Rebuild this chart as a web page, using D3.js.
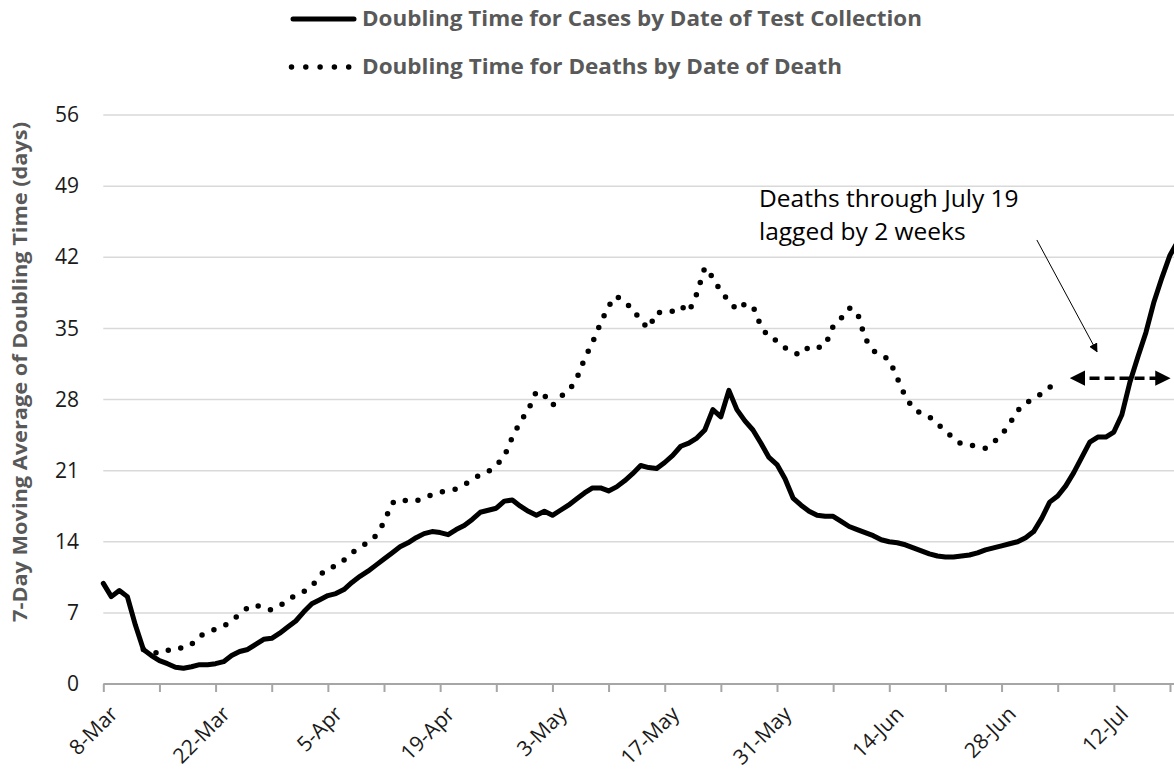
<!DOCTYPE html>
<html>
<head>
<meta charset="utf-8">
<script src="https://cdn.jsdelivr.net/npm/d3@7"></script>
<style>
  body { margin: 0; background: #fff; }
  svg { display: block; }
</style>
</head>
<body>
<svg id="chart" width="1174" height="779"></svg>
<script>
// day 0 = 8 March
var startDate = Date.UTC(2020, 2, 8);

var casesDoubling = [
  9.9, 8.6, 9.2, 8.6, 5.8, 3.4, 2.8, 2.3, 2.0, 1.65,
  1.55, 1.7, 1.9, 1.9, 2.0, 2.2, 2.8, 3.2, 3.4, 3.9,
  4.4, 4.5, 5.0, 5.6, 6.2, 7.1, 7.9, 8.3, 8.7, 8.9,
  9.3, 10.0, 10.6, 11.1, 11.7, 12.3, 12.9, 13.5, 13.9, 14.4,
  14.8, 15.0, 14.9, 14.7, 15.2, 15.6, 16.2, 16.9, 17.1, 17.3,
  18.0, 18.1, 17.5, 17.0, 16.6, 17.0, 16.6, 17.1, 17.6, 18.2,
  18.8, 19.3, 19.3, 19.0, 19.4, 20.0, 20.7, 21.5, 21.3, 21.2,
  21.8, 22.5, 23.4, 23.7, 24.2, 25.0, 27.0, 26.3, 28.9, 27.0,
  25.9, 25.0, 23.7, 22.3, 21.6, 20.2, 18.3, 17.6, 17.0, 16.6,
  16.5, 16.5, 16.0, 15.5, 15.2, 14.9, 14.6, 14.2, 14.0, 13.9,
  13.7, 13.4, 13.1, 12.8, 12.6, 12.5, 12.5, 12.6, 12.7, 12.9,
  13.2, 13.4, 13.6, 13.8, 14.0, 14.4, 15.0, 16.3, 17.9, 18.5,
  19.5, 20.8, 22.3, 23.8, 24.3, 24.3, 24.8, 26.5, 29.7, 32.2,
  34.6, 37.6, 40.0, 42.2, 43.6
];

var deathsDoubling = [
  null, null, null, null, null, 3.4, 3.2, 3.0, 3.3, 3.6,
  3.5, 3.9, 4.7, 5.1, 5.4, 5.7, 6.2, 6.9, 7.5, 7.8,
  7.4, 7.3, 7.7, 8.2, 8.8, 9.1, 9.6, 10.7, 11.4, 11.6,
  12.2, 12.9, 13.5, 13.9, 14.6, 15.9, 17.8, 18.2, 18.0, 18.0,
  18.4, 18.6, 18.9, 19.0, 19.2, 19.6, 20.1, 20.6, 20.9, 21.5,
  22.4, 24.3, 25.8, 27.0, 28.8, 28.4, 27.4, 28.3, 28.8, 30.0,
  32.0, 33.6, 35.5, 37.2, 38.2, 37.5, 37.0, 35.7, 35.0, 36.6,
  36.5, 36.7, 37.2, 36.6, 38.4, 41.0, 40.0, 38.6, 37.7, 36.8,
  37.4, 37.2, 35.2, 34.1, 33.8, 33.1, 32.6, 32.4, 33.2, 33.1,
  33.3, 35.2, 36.0, 37.0, 36.6, 34.0, 32.8, 32.4, 31.9, 30.1,
  28.3, 27.1, 26.6, 26.3, 25.6, 24.9, 24.2, 23.6, 23.5, 23.4,
  23.2, 23.8, 24.5, 25.6, 26.9, 27.7, 28.0, 28.6, 29.2, 29.7
];

var yTicks = [0, 7, 14, 21, 28, 35, 42, 49, 56];
var seriesNames = [
  "Doubling Time for Cases by Date of Test Collection",
  "Doubling Time for Deaths by Date of Death"
];
var yTitle = "7-Day Moving Average of Doubling Time (days)";
var noteLines = ["Deaths through July 19", "lagged by 2 weeks"];
// lag arrow: from day 120 to end, at value 30.1
var lagArrow = { fromDay: 120.1, toDay: 133.5, value: 30.1 };
var pointer = { fromDay: 116.4, fromValue: 43.7, toDay: 123.9, toValue: 32.7 };

function dayDate(d) { return new Date(startDate + d * 864e5); }

var svg = d3.select("#chart");
var font = "'Open Sans', 'DejaVu Sans', sans-serif";

var x = d3.scaleUtc()
  .domain([dayDate(0), dayDate(133.5)])
  .range([103.3, 1174]);
var y = d3.scaleLinear().domain([0, 56]).range([684, 115]);

var defs = svg.append("defs");
defs.append("clipPath").attr("id", "plotClip")
  .append("rect").attr("x", 0).attr("y", 0).attr("width", 1174).attr("height", 779);
defs.append("marker")
  .attr("id", "bigHead")
  .attr("viewBox", "0 0 10 10")
  .attr("refX", 7).attr("refY", 5)
  .attr("markerWidth", 4.4).attr("markerHeight", 4.4)
  .attr("markerUnits", "strokeWidth")
  .attr("orient", "auto-start-reverse")
  .append("path").attr("d", "M0,0 L10,5 L0,10 z").attr("fill", "#000");
defs.append("marker")
  .attr("id", "smallHead")
  .attr("viewBox", "0 0 10 10")
  .attr("refX", 9).attr("refY", 5)
  .attr("markerWidth", 9).attr("markerHeight", 9)
  .attr("markerUnits", "strokeWidth")
  .attr("orient", "auto")
  .append("path").attr("d", "M0,0 L10,5 L0,10 z").attr("fill", "#000");

// gridlines
svg.append("g")
  .selectAll("line")
  .data(yTicks.slice(1))
  .enter()
  .append("line")
  .attr("x1", x.range()[0])
  .attr("x2", 1174)
  .attr("y1", function (d) { return y(d); })
  .attr("y2", function (d) { return y(d); })
  .attr("stroke", "#d9d9d9")
  .attr("stroke-width", 1.5);

// y axis labels
var yAxis = svg.append("g")
  .attr("transform", "translate(79,0)")
  .call(d3.axisLeft(y).tickValues(yTicks).tickSize(0).tickPadding(0));
yAxis.select(".domain").remove();
yAxis.selectAll("text")
  .attr("font-family", font)
  .attr("font-size", "21px")
  .attr("fill", "#1a1a1a");

// x axis
var weekTicks = d3.range(0, 134, 7).map(dayDate);
var fmt = d3.utcFormat("%-d-%b");
var xAxis = svg.append("g")
  .attr("transform", "translate(0,684)")
  .call(d3.axisBottom(x).tickValues(weekTicks).tickSize(8).tickSizeOuter(0)
    .tickFormat(function (d, i) { return i % 2 === 0 ? fmt(d) : ""; }));
xAxis.select(".domain").attr("stroke", "#a6a6a6").attr("stroke-width", 2)
  .attr("d", "M" + x.range()[0] + ",0H1174");
xAxis.selectAll(".tick line").attr("stroke", "#a6a6a6").attr("stroke-width", 2);
xAxis.selectAll(".tick text")
  .attr("font-family", font)
  .attr("font-size", "21px")
  .attr("fill", "#1a1a1a")
  .attr("text-anchor", "end")
  .attr("x", 0).attr("y", 0).attr("dy", "0.35em")
  .attr("transform", "translate(10,26) rotate(-45)");

// series lines
var line = d3.line()
  .defined(function (d) { return d != null; })
  .x(function (d, i) { return x(dayDate(i)); })
  .y(function (d) { return y(d); })
  .curve(d3.curveLinear);

var plot = svg.append("g").attr("clip-path", "url(#plotClip)");

plot.append("path")
  .datum(deathsDoubling)
  .attr("d", line)
  .attr("fill", "none")
  .attr("stroke", "#000")
  .attr("stroke-width", 5.5)
  .attr("stroke-linecap", "round")
  .attr("stroke-dasharray", "0,13");

plot.append("path")
  .datum(casesDoubling)
  .attr("d", line)
  .attr("fill", "none")
  .attr("stroke", "#000")
  .attr("stroke-width", 5)
  .attr("stroke-linejoin", "round")
  .attr("stroke-linecap", "round");

// lag arrow
plot.append("line")
  .attr("x1", x(dayDate(lagArrow.fromDay)) + 8)
  .attr("x2", x(dayDate(lagArrow.toDay)) - 8)
  .attr("y1", y(lagArrow.value))
  .attr("y2", y(lagArrow.value))
  .attr("stroke", "#000")
  .attr("stroke-width", 3.5)
  .attr("stroke-dasharray", "10,5")
  .attr("marker-start", "url(#bigHead)")
  .attr("marker-end", "url(#bigHead)");

// pointer
svg.append("line")
  .attr("x1", x(dayDate(pointer.fromDay)))
  .attr("y1", y(pointer.fromValue))
  .attr("x2", x(dayDate(pointer.toDay)))
  .attr("y2", y(pointer.toValue))
  .attr("stroke", "#000")
  .attr("stroke-width", 1)
  .attr("marker-end", "url(#smallHead)");

// note text
svg.append("g")
  .selectAll("text")
  .data(noteLines)
  .enter()
  .append("text")
  .attr("x", 759)
  .attr("y", function (d, i) { return 207 + i * 33; })
  .attr("font-family", font)
  .attr("font-size", "24.5px")
  .attr("fill", "#000")
  .text(function (d) { return d; });

// y title
svg.append("text")
  .attr("transform", "translate(27,372) rotate(-90)")
  .attr("text-anchor", "middle")
  .attr("font-family", font)
  .attr("font-weight", "bold")
  .attr("font-size", "19px")
  .attr("fill", "#595959")
  .attr("textLength", 500)
  .attr("lengthAdjust", "spacingAndGlyphs")
  .text(yTitle);

// legend
var legendWidths = [560, 480];
var legend = svg.append("g")
  .selectAll("g")
  .data(seriesNames)
  .enter()
  .append("g")
  .attr("transform", function (d, i) { return "translate(0," + (19 + i * 48) + ")"; });

legend.append("line")
  .attr("x1", function (d, i) { return i === 0 ? 293 : 291.5; })
  .attr("x2", function (d, i) { return i === 0 ? 354 : 352; })
  .attr("y1", 0).attr("y2", 0)
  .attr("stroke", "#000")
  .attr("stroke-width", function (d, i) { return i === 0 ? 5 : 5.5; })
  .attr("stroke-linecap", "round")
  .attr("stroke-dasharray", function (d, i) { return i === 0 ? null : "0,14.3"; });

legend.append("text")
  .attr("x", 362)
  .attr("dy", "0.35em")
  .attr("font-family", font)
  .attr("font-weight", "bold")
  .attr("font-size", "20.5px")
  .attr("fill", "#595959")
  .attr("textLength", function (d, i) { return legendWidths[i]; })
  .attr("lengthAdjust", "spacingAndGlyphs")
  .text(function (d) { return d; });
</script>
</body>
</html>
